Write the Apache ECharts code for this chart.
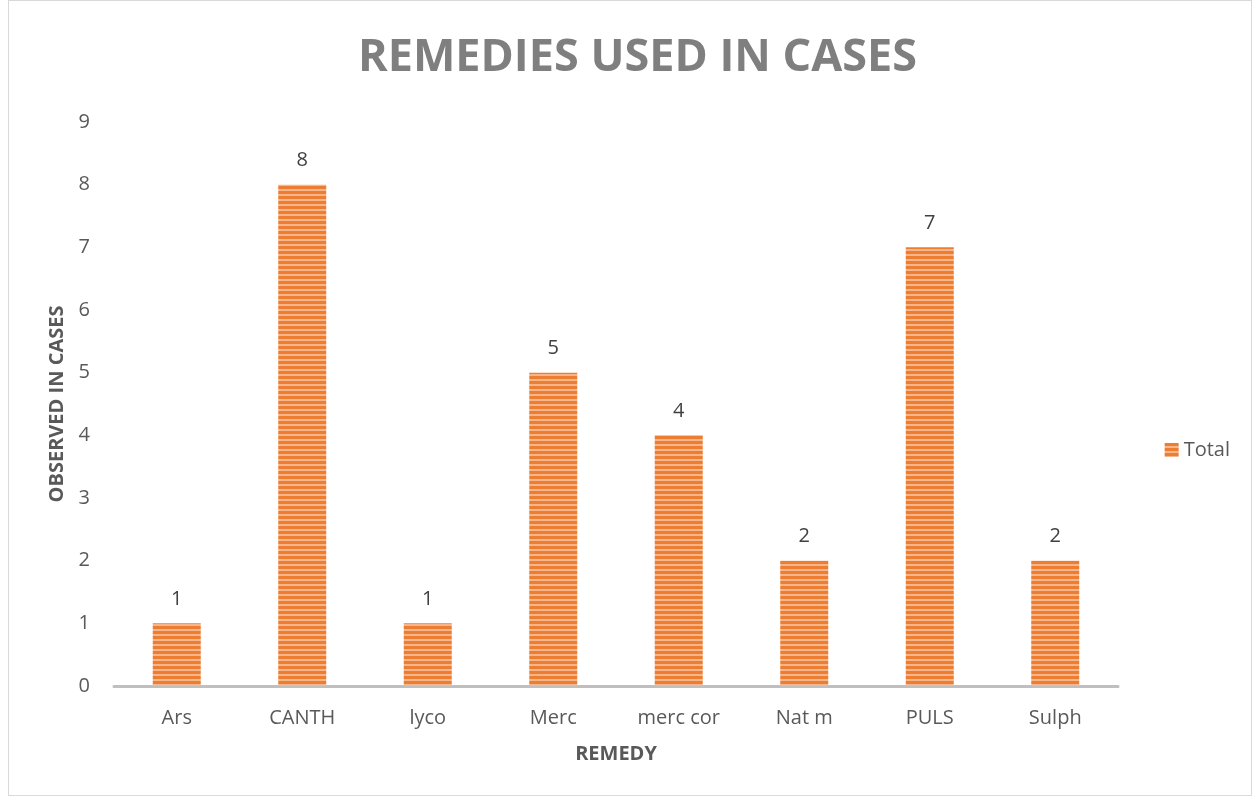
<!DOCTYPE html>
<html>
<head>
<meta charset="utf-8">
<script src="https://cdn.jsdelivr.net/npm/echarts@6/dist/echarts.min.js"></script>
<style>
  html, body { margin: 0; padding: 0; background: #fff; }
  #chart { position: absolute; left: 8px; top: 0; width: 1244px; height: 796px; border: 1px solid #d9d9d9; box-sizing: border-box; }
</style>
</head>
<body>
<div id="chart"></div>
<script>
// chart data
const remedies = ['Ars', 'CANTH', 'lyco', 'Merc', 'merc cor', 'Nat m', 'PULS', 'Sulph']
const totals = [1, 8, 1, 5, 4, 2, 7, 2]

// horizontal stripe fill like the Excel pattern
function stripePattern() {
  const c = document.createElement('canvas')
  c.width = 8
  c.height = 5
  const ctx = c.getContext('2d')
  ctx.fillStyle = '#ED7D31'
  ctx.fillRect(0, 0, 8, 5)
  ctx.fillStyle = '#F6B58A'
  ctx.fillRect(0, 3, 8, 2)
  return c
}

const chart = echarts.init(document.getElementById('chart'))
const fill = { image: stripePattern(), repeat: 'repeat' }
const labelFont = { fontFamily: 'Open Sans', fontSize: 20, color: '#595959' }

chart.setOption({
  animation: false,
  title: {
    text: 'REMEDIES USED IN CASES',
    left: 344,
    top: 30,
    textStyle: {
      fontFamily: 'Open Sans',
      fontWeight: 'bold',
      fontSize: 45,
      color: '#7F7F7F'
    }
  },
  grid: {
    left: 105,
    right: 133,
    top: 121,
    bottom: 796 - 687,
    containLabel: false
  },
  legend: {
    data: ['Total'],
    right: 16,
    top: 434,
    orient: 'vertical',
    itemWidth: 14,
    itemHeight: 14,
    itemGap: 6,
    icon: 'rect',
    textStyle: labelFont
  },
  xAxis: {
    type: 'category',
    data: remedies,
    name: 'REMEDY',
    nameLocation: 'middle',
    nameGap: 58,
    nameTextStyle: { fontFamily: 'Open Sans', fontWeight: 'bold', fontSize: 20, color: '#595959' },
    axisLine: { lineStyle: { color: '#BFBFBF', width: 3 } },
    axisTick: { show: false },
    axisLabel: Object.assign({ margin: 22 }, labelFont)
  },
  yAxis: {
    type: 'value',
    min: 0,
    max: 9,
    interval: 1,
    name: 'OBSERVED IN CASES',
    nameLocation: 'middle',
    nameGap: 44,
    nameRotate: 90,
    nameTextStyle: { fontFamily: 'Open Sans', fontWeight: 'bold', fontSize: 20, color: '#595959' },
    axisLine: { show: false },
    axisTick: { show: false },
    splitLine: { show: false },
    axisLabel: Object.assign({ margin: 24 }, labelFont)
  },
  series: [
    {
      name: 'Total',
      type: 'bar',
      data: totals,
      barWidth: 48,
      itemStyle: { color: fill },
      label: {
        show: true,
        position: 'top',
        distance: 14,
        fontFamily: 'Open Sans',
        fontSize: 20,
        color: '#404040'
      }
    }
  ]
})
</script>
</body>
</html>
